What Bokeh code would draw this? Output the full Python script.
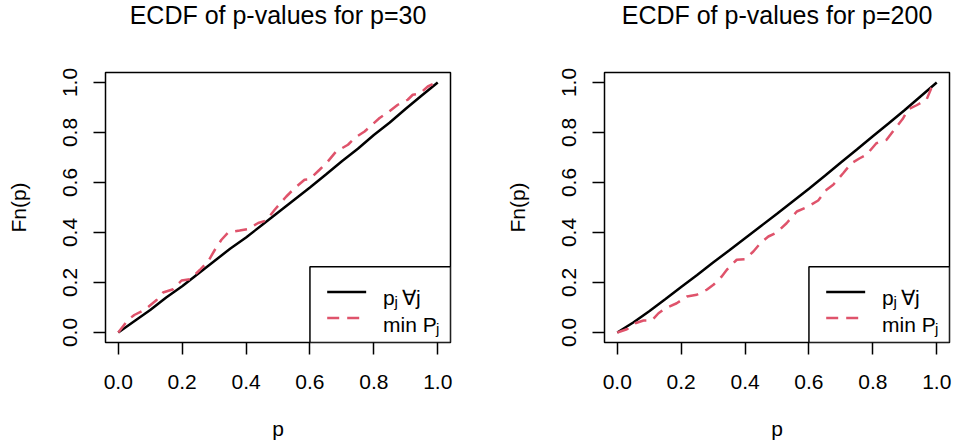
from bokeh.plotting import figure
from bokeh.layouts import row
from bokeh.models import Range1d, FixedTicker, PrintfTickFormatter, Title
from bokeh.core.properties import value
from bokeh.embed import file_html
from bokeh.resources import INLINE

# ---- data ----
titles = ["ECDF of p-values for p=30", "ECDF of p-values for p=200"]
x_label = "p"
y_label = "Fn(p)"
tick_values = [0.0, 0.2, 0.4, 0.6, 0.8, 1.0]

# p = 30 : all p_j (solid black)
p30_all_x = [0.0, 0.05, 0.1, 0.15, 0.2, 0.25, 0.3, 0.35, 0.4, 0.45, 0.5,
             0.55, 0.6, 0.65, 0.7, 0.75, 0.8, 0.85, 0.9, 0.95, 1.0]
p30_all_y = [0.0, 0.045, 0.09, 0.14, 0.185, 0.235, 0.285, 0.335, 0.38, 0.43, 0.48,
             0.53, 0.58, 0.632, 0.685, 0.735, 0.79, 0.84, 0.895, 0.948, 1.0]
# p = 30 : min P_j (dashed red)
p30_min_x = [0.0, 0.03, 0.05, 0.083, 0.12, 0.14, 0.172, 0.198, 0.224, 0.255, 0.281,
             0.302, 0.323, 0.344, 0.38, 0.406, 0.438, 0.463, 0.489, 0.526, 0.552,
             0.583, 0.599, 0.63, 0.656, 0.682, 0.719, 0.74, 0.771, 0.818, 0.844,
             0.875, 0.906, 0.922, 0.943, 0.969, 0.995, 1.0]
p30_min_y = [0.0, 0.05, 0.07, 0.091, 0.13, 0.16, 0.173, 0.208, 0.213, 0.25, 0.284,
             0.33, 0.371, 0.40, 0.408, 0.414, 0.438, 0.448, 0.49, 0.544, 0.577,
             0.611, 0.613, 0.651, 0.684, 0.724, 0.751, 0.778, 0.804, 0.858, 0.88,
             0.911, 0.931, 0.951, 0.955, 0.984, 1.0, 1.0]

# p = 200 : all p_j (solid black)
p200_all_x = [0.0, 0.05, 0.1, 0.15, 0.2, 0.25, 0.3, 0.35, 0.4, 0.45, 0.5,
              0.55, 0.6, 0.65, 0.7, 0.75, 0.8, 0.85, 0.9, 0.95, 1.0]
p200_all_y = [0.0, 0.04, 0.085, 0.133, 0.182, 0.23, 0.28, 0.328, 0.377, 0.426, 0.475,
              0.525, 0.575, 0.627, 0.68, 0.732, 0.785, 0.837, 0.89, 0.945, 1.0]
# p = 200 : min P_j (dashed red)
p200_min_x = [0.0, 0.03, 0.056, 0.082, 0.108, 0.129, 0.151, 0.186, 0.218, 0.249, 0.28,
              0.301, 0.327, 0.343, 0.374, 0.4, 0.426, 0.448, 0.473, 0.499, 0.53,
              0.562, 0.593, 0.629, 0.655, 0.676, 0.707, 0.733, 0.759, 0.78, 0.811,
              0.843, 0.868, 0.895, 0.91, 0.937, 0.968, 0.983, 1.0]
p200_min_y = [0.0, 0.013, 0.037, 0.048, 0.048, 0.077, 0.097, 0.117, 0.144, 0.151, 0.171,
              0.191, 0.224, 0.251, 0.291, 0.293, 0.324, 0.357, 0.384, 0.40, 0.437,
              0.484, 0.501, 0.528, 0.571, 0.591, 0.637, 0.677, 0.697, 0.711, 0.757,
              0.771, 0.813, 0.857, 0.892, 0.909, 0.931, 0.977, 1.0]

FONT = "Liberation Sans"
RED = "#DF536B"


def make_panel(title, ax, ay, mx, my, width, border_left, border_right):
    p = figure(width=width, height=442,
               x_range=Range1d(-0.04, 1.04), y_range=Range1d(-0.04, 1.04),
               output_backend="svg", toolbar_location=None,
               min_border_left=border_left, min_border_right=border_right,
               min_border_top=72, min_border_bottom=99)

    # spacer title (innermost) then the real title above it
    p.add_layout(Title(text=" ", text_font_size="26px"), "above")
    p.add_layout(Title(text=title, align="center", vertical_align="top",
                       standoff=0, text_font=FONT, text_font_size="25px",
                       text_font_style="normal", text_color="black"), "above")

    p.grid.visible = False
    p.outline_line_color = "black"
    p.outline_line_width = 1.5
    p.outline_line_alpha = 1.0
    p.background_fill_color = "white"
    p.border_fill_color = "white"

    for axis in (p.xaxis[0], p.yaxis[0]):
        axis.ticker = FixedTicker(ticks=tick_values)
        axis.formatter = PrintfTickFormatter(format="%.1f")
        axis.axis_line_color = None
        axis.major_tick_out = 12
        axis.major_tick_in = 0
        axis.major_tick_line_color = "black"
        axis.major_tick_line_width = 1.5
        axis.minor_tick_line_color = None
        axis.major_label_text_font = FONT
        axis.major_label_text_font_size = "21px"
        axis.major_label_text_color = "black"
        axis.axis_label_text_font = FONT
        axis.axis_label_text_font_size = "21px"
        axis.axis_label_text_font_style = "normal"
        axis.axis_label_text_color = "black"

    p.xaxis.axis_label = x_label
    p.xaxis.major_label_standoff = 20
    p.xaxis.axis_label_standoff = 25
    p.yaxis.axis_label = y_label
    p.yaxis.major_label_orientation = "parallel"
    p.yaxis.major_label_standoff = 17
    p.yaxis.axis_label_standoff = 30

    p.line(ax, ay, line_color="black", line_width=2.5)
    p.line(mx, my, line_color=RED, line_width=2.5, line_dash="12 8")

    # legend (bottom right)
    p.quad(left=[0.6], right=[1.04], bottom=[-0.04], top=[0.263],
           fill_color="white", line_color="black", line_width=1.5)
    p.line([0.654, 0.776], [0.162, 0.162], line_color="black", line_width=2.5)
    p.line([0.654, 0.776], [0.058, 0.058], line_color=RED, line_width=2.5,
           line_dash="12 8")
    tx = 0.829
    common = dict(text_font=value(FONT), text_color="black",
                  text_baseline="alphabetic", text_align="left")
    p.text(x=[tx], y=[0.142], text=["p"], text_font_size="21px", **common)
    p.text(x=[tx], y=[0.142], text=["j"], text_font_size="15px",
           x_offset=11.5, y_offset=4, **common)
    p.text(x=[tx], y=[0.142], text=["\u2200j"], text_font_size="21px",
           x_offset=19, **common)
    p.text(x=[tx], y=[0.032], text=["min P"], text_font_size="21px", **common)
    p.text(x=[tx], y=[0.032], text=["j"], text_font_size="15px",
           x_offset=53, y_offset=4, **common)
    return p


left = make_panel(titles[0], p30_all_x, p30_all_y, p30_min_x, p30_min_y, 477, 105, 27)
right = make_panel(titles[1], p200_all_x, p200_all_y, p200_min_x, p200_min_y, 475, 127, 3)

layout = row(left, right)
open("out.html", "w").write(file_html(layout, INLINE))
